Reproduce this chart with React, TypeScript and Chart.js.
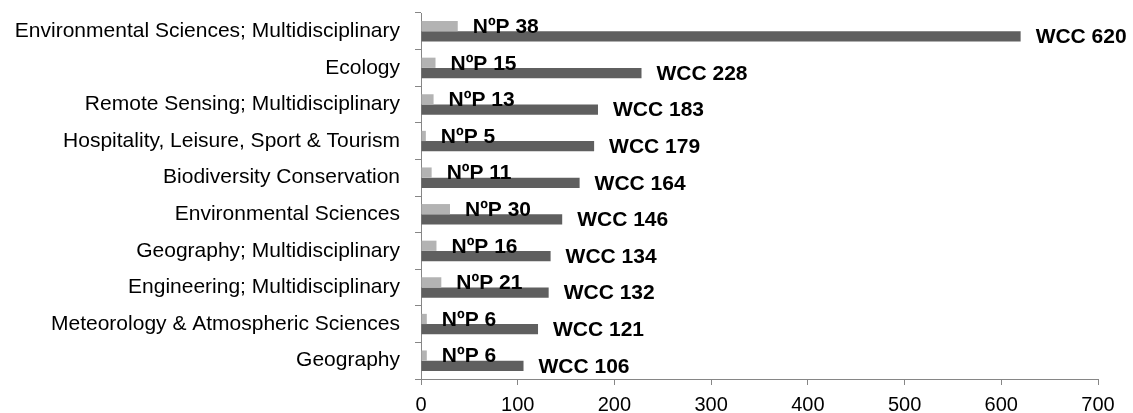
import React, { useEffect, useRef } from "react";
import { Chart, registerables } from "chart.js";

Chart.register(...registerables);

const categories = [
  "Environmental Sciences; Multidisciplinary",
  "Ecology",
  "Remote Sensing; Multidisciplinary",
  "Hospitality, Leisure, Sport & Tourism",
  "Biodiversity Conservation",
  "Environmental Sciences",
  "Geography; Multidisciplinary",
  "Engineering; Multidisciplinary",
  "Meteorology & Atmospheric Sciences",
  "Geography",
];

const npValues = [38, 15, 13, 5, 11, 30, 16, 21, 6, 6];
const wccValues = [620, 228, 183, 179, 164, 146, 134, 132, 121, 106];

const seriesNames = ["NºP", "WCC"];
const xTicks = [0, 100, 200, 300, 400, 500, 600, 700];

const FONT = '"Liberation Sans", Arial, Helvetica, sans-serif';

const labelPlugin = {
  id: "barLabels",
  afterDatasetsDraw(chart: any) {
    const ctx = chart.ctx;
    ctx.save();
    ctx.font = `bold 21px ${FONT}`;
    ctx.fillStyle = "#000000";
    ctx.textAlign = "left";
    ctx.textBaseline = "middle";
    chart.data.datasets.forEach((ds: any, di: number) => {
      const meta = chart.getDatasetMeta(di);
      meta.data.forEach((bar: any, i: number) => {
        const txt = `${ds.label} ${ds.data[i]}`;
        ctx.fillText(txt, bar.x + 15, bar.y + 1);
      });
    });
    ctx.restore();
  },
};

export default function App() {
  const ref = useRef<HTMLCanvasElement | null>(null);

  useEffect(() => {
    document.body.style.margin = "0";
    if (!ref.current) return;
    const chart = new Chart(ref.current, {
      type: "bar",
      data: {
        labels: categories,
        datasets: [
          {
            label: seriesNames[0],
            data: npValues,
            backgroundColor: "#b3b3b3",
            categoryPercentage: 0.56,
            barPercentage: 1,
          },
          {
            label: seriesNames[1],
            data: wccValues,
            backgroundColor: "#5f5f5f",
            categoryPercentage: 0.56,
            barPercentage: 1,
          },
        ],
      },
      options: {
        indexAxis: "y",
        responsive: false,
        animation: false,
        layout: { padding: { top: 13, right: 35, left: 0, bottom: 0 } },
        plugins: {
          legend: { display: false },
          tooltip: { enabled: false },
        },
        scales: {
          x: {
            min: 0,
            max: 700,
            afterFit: (s: any) => {
              s.height = 34;
              s.paddingRight = 0;
              s.paddingLeft = 0;
            },
            afterBuildTicks: (s: any) => {
              s.ticks = xTicks.map((v) => ({ value: v }));
            },
            border: { display: true, color: "#868686", width: 1 },
            grid: {
              drawOnChartArea: false,
              drawTicks: true,
              tickLength: 6,
              color: "#868686",
            },
            ticks: {
              color: "#000000",
              font: { family: FONT, size: 20 },
              padding: 8,
              maxRotation: 0,
            },
          },
          y: {
            afterFit: (s: any) => {
              s.width = 421;
              s.paddingTop = 0;
              s.paddingBottom = 0;
            },
            border: { display: true, color: "#868686", width: 1 },
            grid: {
              drawOnChartArea: false,
              drawTicks: true,
              tickLength: 6,
              color: "#868686",
            },
            ticks: {
              color: "#000000",
              font: { family: FONT, size: 21 },
              padding: 15,
              autoSkip: false,
            },
          },
        },
      },
      plugins: [labelPlugin],
    } as any);
    return () => chart.destroy();
  }, []);

  return (
    <div style={{ position: "fixed", left: 0, top: 0, width: 1133, height: 413, background: "#ffffff" }}>
      <canvas ref={ref} width={1133} height={413} style={{ width: 1133, height: 413 }} />
    </div>
  );
}
